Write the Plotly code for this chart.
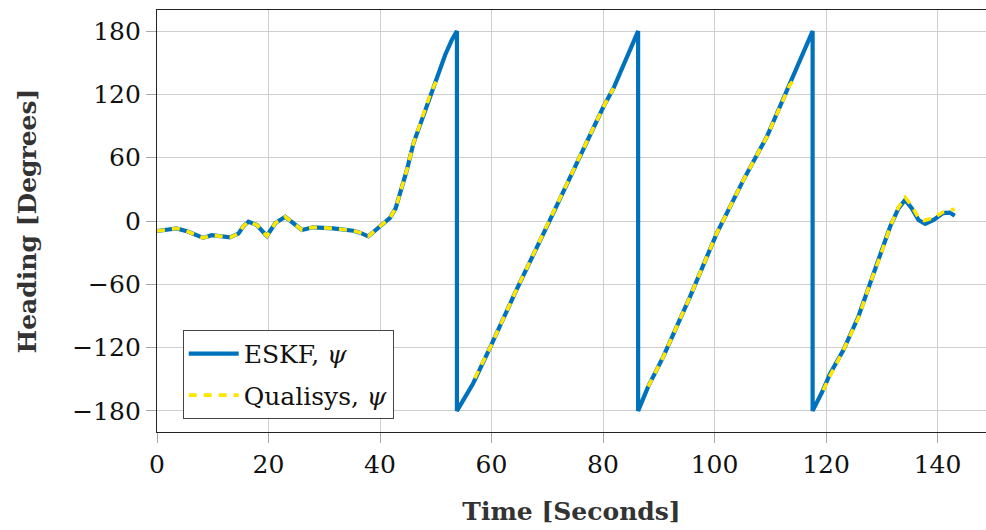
import plotly.graph_objects as go

# ESKF heading estimate (deg), wrapped to [-180, 180]
eskf_t = [0.0, 1.5, 3.5, 5.5, 8.3, 9.8, 11.5, 13.1, 14.6, 15.5, 16.4, 17.9, 19.7,
          21.2, 23.0, 24.5, 26.0, 28.0, 31.6, 35.2, 36.4, 37.9, 40.0, 41.8, 42.8,
          43.6, 44.8, 46.0, 47.5, 49.0, 50.2, 51.7, 52.9, 53.8,
          53.8, 55.2, 56.7, 59.7, 64.5, 70.5, 75.9, 80.1, 81.9, 83.6, 86.3,
          86.3, 88.1, 90.8, 95.6, 100.4, 105.2, 109.4, 113.5, 117.6,
          117.6, 119.5, 120.7, 123.1, 125.8, 127.9, 129.7, 131.5, 133.0, 134.2,
          135.4, 136.6, 137.8, 139.3, 141.0, 142.2, 143.1]
eskf_psi = [-9.5, -8.5, -7.0, -10.0, -16.0, -13.5, -14.5, -15.5, -12.0, -5.0, -0.6, -3.8, -14.2,
            -2.2, 4.0, -2.2, -8.5, -6.0, -7.0, -9.2, -11.0, -14.5, -5.4, 3.0, 12.0,
            26.0, 48.0, 73.7, 96.0, 120.0, 137.0, 157.6, 171.8, 180.0,
            -180.0, -168.0, -154.0, -120.5, -65.0, 1.0, 61.0, 108.5, 126.0, 146.5, 180.0,
            -180.0, -157.0, -128.8, -71.9, -11.7, 39.0, 80.0, 129.0, 180.0,
            -180.0, -160.0, -145.0, -122.5, -90.8, -59.2, -33.9, -5.4, 12.0, 20.0,
            12.0, 1.0, -2.8, 1.0, 7.5, 8.0, 5.0]

# Qualisys reference heading (deg); None marks dropouts
qual_t = [0.0, 1.5, 3.5, 5.5, 8.3, 9.8, 11.5, 13.1, 14.6, 15.5, 16.4, 17.9, 19.7,
          21.2, 23.0, 24.5, 26.0, 28.0, 31.6, 35.2, 36.4, 37.9, 40.0, 41.8, 42.8,
          43.6, 44.8, 46.0, 47.5, 49.0, 50.05, None,
          57.0, 59.7, 64.5, 70.5, 75.9, 80.1, 81.9, None,
          88.1, 90.8, 95.6, 100.4, 105.2, 109.4, 113.5, 114.0, None,
          119.5, 120.7, 123.1, 125.8, 127.9, 129.7, 131.5, 133.0, 134.2,
          135.4, 136.6, 137.6, 139.3, 141.0, 142.2, 143.1]
qual_psi = [-9.5, -8.5, -7.0, -10.0, -16.0, -13.5, -14.5, -15.5, -12.0, -5.0, -0.6, -3.8, -14.2,
            -2.2, 4.0, -2.2, -8.5, -6.0, -7.0, -9.2, -11.0, -14.5, -5.4, 3.0, 12.0,
            26.0, 48.0, 73.7, 96.0, 120.0, 132.0, None,
            -149.0, -120.5, -65.0, 1.0, 61.0, 108.5, 126.0, None,
            -157.0, -128.8, -71.9, -11.7, 39.0, 80.0, 129.0, 132.0, None,
            -160.4, -147.0, -122.5, -92.0, -59.2, -33.9, -5.4, 13.0, 22.5,
            14.0, 3.0, 0.5, 3.0, 8.5, 10.5, 11.0]

x_ticks = [0, 20, 40, 60, 80, 100, 120, 140]
y_ticks = [-180, -120, -60, 0, 60, 120, 180]

SERIF = "DejaVu Serif"
BLUE = "#0072BD"
YELLOW = "#FFE600"

fig = go.Figure()
fig.add_trace(go.Scatter(
    x=eskf_t, y=eskf_psi, mode="lines", name="ESKF, <i>ψ</i>",
    legendgroup="a",
    line=dict(color=BLUE, width=4.2),
))
fig.add_trace(go.Scatter(
    x=qual_t, y=qual_psi, mode="lines", name="Qualisys, <i>ψ</i>",
    legendgroup="b", connectgaps=False,
    line=dict(color=YELLOW, width=3.6, dash="8px,7px"),
))

axis_common = dict(
    showgrid=True, gridcolor="#cfcfcf", gridwidth=1,
    showline=True, linecolor="#222222", linewidth=1.3,
    ticks="outside", ticklen=10, tickcolor="#a8a8a8", tickwidth=1,
    zeroline=False,
    tickfont=dict(family=SERIF, size=25, color="#111111"),
)

fig.update_layout(
    width=986, height=530,
    margin=dict(l=157, r=0, t=10, b=98),
    plot_bgcolor="white", paper_bgcolor="white",
    xaxis=dict(
        range=[0, 148.7], tickvals=x_ticks, mirror=True,
        title=dict(text="<b>Time [Seconds]</b>", standoff=24,
                   font=dict(family=SERIF, size=25, color="#333333")),
        **axis_common,
    ),
    yaxis=dict(
        range=[-200, 200], tickvals=y_ticks, mirror=False,
        title=dict(text="<b>Heading [Degrees]</b>", standoff=28,
                   font=dict(family=SERIF, size=25, color="#333333")),
        **axis_common,
    ),
    legend=dict(
        x=0.031, y=0.031, xanchor="left", yanchor="bottom",
        bgcolor="white", bordercolor="#444444", borderwidth=1,
        font=dict(family=SERIF, size=25, color="#111111"),
        traceorder="grouped", tracegroupgap=6,
        itemwidth=50,
    ),
)

fig.write_html("out.html")
